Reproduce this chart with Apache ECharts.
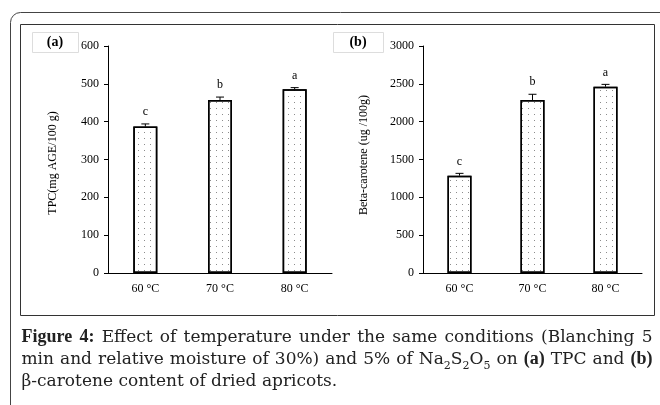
<!DOCTYPE html>
<html><head><meta charset="utf-8">
<script src="https://cdn.jsdelivr.net/npm/echarts@6/dist/echarts.min.js"></script>
<style>html,body{margin:0;padding:0;background:#fff}#c{width:660px;height:405px}</style>
</head><body><div id="c"></div>
<script>
var categories = ['60 °C', '70 °C', '80 °C'];
var tpcValues = [387, 457, 486];
var tpcErrors = [7, 8, 4];
var betaValues = [1286, 2286, 2462];
var betaErrors = [31, 76, 31];
var letters = ['c', 'b', 'a'];
var tpcTicks = [0, 600, 100];
var betaTicks = [0, 3000, 500];
var tpcTitle = 'TPC(mg AGE/100 g)';
var betaTitle = 'Beta-carotene (ug /100g)';
var captionLines = [
  '{b|Figure} {b|4:} Effect of temperature under the same conditions (Blanching 5',
  'min and relative moisture of 30%) and 5% of Na{s|2}S{s|2}O{s|5} on {b|(a)} TPC and {b|(b)}',
  'β-carotene content of dried apricots.'
];

var serif = '"Liberation Serif", "Times New Roman", serif';
var capSerif = '"DejaVu Serif", serif';
var chart = echarts.init(document.getElementById('c'), null, {renderer: 'canvas'});

function errRender(params, api) {
  var x = api.value(0), v = api.value(1), e = api.value(2);
  var base = api.coord([x, v]);
  var top = api.coord([x, v + e]);
  var half = 4;
  return {type: 'group', children: [
    {type: 'line', shape: {x1: base[0], y1: base[1], x2: base[0], y2: top[1]}, style: {stroke: '#000', lineWidth: 1}},
    {type: 'line', shape: {x1: top[0] - half, y1: top[1], x2: top[0] + half, y2: top[1]}, style: {stroke: '#000', lineWidth: 1}},
    {type: 'text', style: {text: letters[params.dataIndex], x: top[0], y: top[1] - 12, align: 'center', verticalAlign: 'middle', font: '12px ' + serif, fill: '#000'}}
  ]};
}
function errData(vals, errs) { return vals.map(function (v, i) { return [i, v, errs[i]]; }); }

var decal = {symbol: 'rect', symbolSize: 1, dashArrayX: [1, 5], dashArrayY: [1, 5], color: 'rgba(0,0,0,0.45)', rotation: 0};
var barStyle = {color: '#fff', borderColor: '#000', borderWidth: 1.5, decal: decal};

function xAx(gi) {
  return {type: 'category', gridIndex: gi, data: categories,
    axisLine: {lineStyle: {color: '#000', width: 1}}, axisTick: {show: false},
    axisLabel: {color: '#000', fontFamily: serif, fontSize: 12, margin: 10}};
}
function yAx(gi, t) {
  return {type: 'value', gridIndex: gi, min: t[0], max: t[1], interval: t[2],
    axisLine: {show: true, lineStyle: {color: '#000', width: 1}}, axisTick: {show: true, length: 4, lineStyle: {color: '#000'}},
    splitLine: {show: false}, axisLabel: {color: '#000', fontFamily: serif, fontSize: 12, margin: 9, formatter: function (v) { return String(v); }}};
}

// caption layout (justified lines like the reference)
var ctx = document.createElement('canvas').getContext('2d');
var capFs = 17, boldFs = 18, subFs = 11;
function fontOf(st) {
  if (st === 'b') return 'bold ' + boldFs + 'px ' + serif;
  if (st === 's') return subFs + 'px ' + capSerif;
  return capFs + 'px ' + capSerif;
}
function measure(t, st) { ctx.font = fontOf(st); return ctx.measureText(t).width; }
function parseWord(w) {
  var segs = [], re = /\{(b|s)\|([^}]*)\}/g, last = 0, m;
  while ((m = re.exec(w))) {
    if (m.index > last) segs.push([w.slice(last, m.index), 'n']);
    segs.push([m[2], m[1]]);
    last = re.lastIndex;
  }
  if (last < w.length) segs.push([w.slice(last), 'n']);
  return segs;
}
var capLeft = 21.5, capRight = 652.5, capBase = [346, 368, 390];
var capGraphics = [];
captionLines.forEach(function (line, li) {
  var words = line.split(' ').map(parseWord);
  var widths = words.map(function (segs) { return segs.reduce(function (s, g) { return s + measure(g[0], g[1]); }, 0); });
  var total = widths.reduce(function (a, b) { return a + b; }, 0);
  var justify = li < captionLines.length - 1;
  var gap = justify ? (capRight - capLeft - total) / (words.length - 1) : measure(' ', 'n');
  var x = capLeft;
  words.forEach(function (segs) {
    segs.forEach(function (g) {
      var isSub = g[1] === 's';
      capGraphics.push({type: 'text', z: 10, style: {
        text: g[0], x: x, y: capBase[li] + (isSub ? 4 : 0), align: 'left', verticalAlign: 'bottom',
        font: fontOf(g[1]), fill: '#222'}});
      x += measure(g[0], g[1]);
    });
    x += gap;
  });
});

var option = {
  animation: false,
  backgroundColor: '#fff',
  grid: [
    {left: 108, top: 46, width: 224, height: 227},
    {left: 423, top: 46, width: 219, height: 227}
  ],
  xAxis: [xAx(0), xAx(1)],
  yAxis: [yAx(0, tpcTicks), yAx(1, betaTicks)],
  series: [
    {type: 'bar', xAxisIndex: 0, yAxisIndex: 0, data: tpcValues, barWidth: 24, itemStyle: barStyle},
    {type: 'custom', xAxisIndex: 0, yAxisIndex: 0, data: errData(tpcValues, tpcErrors), renderItem: errRender, z: 5},
    {type: 'bar', xAxisIndex: 1, yAxisIndex: 1, data: betaValues, barWidth: 24, itemStyle: barStyle},
    {type: 'custom', xAxisIndex: 1, yAxisIndex: 1, data: errData(betaValues, betaErrors), renderItem: errRender, z: 5}
  ],
  graphic: [
    {type: 'rect', shape: {x: 10.5, y: 12.5, width: 660, height: 420, r: [10, 10, 0, 0]}, style: {fill: 'none', stroke: '#444', lineWidth: 1}},
    {type: 'rect', shape: {x: 20.5, y: 24.5, width: 634, height: 291}, style: {fill: 'none', stroke: '#333', lineWidth: 1}},
    {type: 'rect', shape: {x: 32.5, y: 32.5, width: 46, height: 20}, style: {fill: 'none', stroke: '#ddd', lineWidth: 1}},
    {type: 'text', style: {text: '(a)', x: 55, y: 42.5, align: 'center', verticalAlign: 'middle', font: 'bold 14px ' + serif, fill: '#000'}},
    {type: 'rect', shape: {x: 333.5, y: 32.5, width: 50, height: 20}, style: {fill: 'none', stroke: '#ddd', lineWidth: 1}},
    {type: 'text', style: {text: '(b)', x: 358, y: 42.5, align: 'center', verticalAlign: 'middle', font: 'bold 14px ' + serif, fill: '#000'}},
    {type: 'text', rotation: Math.PI / 2, x: 53, y: 163, style: {text: tpcTitle, x: 0, y: 0, align: 'center', verticalAlign: 'middle', font: '12px ' + serif, fill: '#000'}},
    {type: 'text', rotation: Math.PI / 2, x: 364, y: 155, style: {text: betaTitle, x: 0, y: 0, align: 'center', verticalAlign: 'middle', font: '12px ' + serif, fill: '#000'}}
  ].concat(capGraphics)
};
chart.setOption(option);
</script></body></html>
